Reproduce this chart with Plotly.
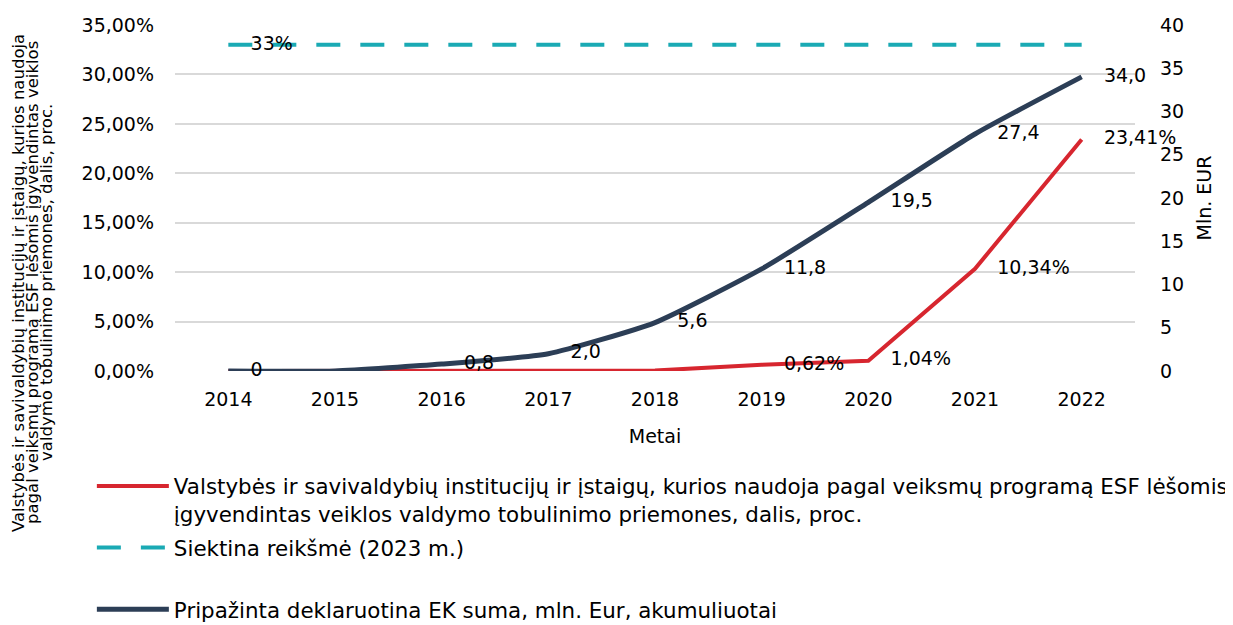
import plotly.graph_objects as go

years = ["2014", "2015", "2016", "2017", "2018", "2019", "2020", "2021", "2022"]
share_pct = [0, 0, 0, 0, 0.05, 0.62, 1.04, 10.34, 23.41]
share_labels = ["", "", "", "", "", "0,62%", "1,04%", "10,34%", "23,41%"]
target_pct = [33] * 9
target_labels = ["33%", "", "", "", "", "", "", "", ""]
eur_mln = [0, 0, 0.8, 2.0, 5.6, 11.8, 19.5, 27.4, 34.0]
eur_labels = ["0", "", "0,8", "2,0", "5,6", "11,8", "19,5", "27,4", "34,0"]

left_ticks = [0, 5, 10, 15, 20, 25, 30, 35]
left_ticktext = ["0,00%", "5,00%", "10,00%", "15,00%", "20,00%", "25,00%", "30,00%", "35,00%"]
right_ticks = [0, 5, 10, 15, 20, 25, 30, 35, 40]

left_title_lines = [
    "Valstybės ir savivaldybių institucijų ir įstaigų, kurios naudoja",
    "pagal veiksmų programą ESF lėšomis įgyvendintas veiklos",
    "valdymo tobulinimo priemones, dalis, proc.",
]

FONT = "DejaVu Sans"
RED = "#D7262F"
NAVY = "#2C3E56"
CYAN = "#1AAAB4"

fig = go.Figure()

fig.add_trace(go.Scatter(
    x=years, y=share_pct, mode="lines", yaxis="y", legendgroup="a",
    line=dict(color=RED, width=4),
    name="Valstybės ir savivaldybių institucijų ir įstaigų, kurios naudoja pagal veiksmų programą ESF lėšomis<br>įgyvendintas veiklos valdymo tobulinimo priemones, dalis, proc.",
    hoverinfo="skip"))
fig.add_trace(go.Scatter(
    x=years, y=target_pct, mode="lines", yaxis="y", legendgroup="b",
    line=dict(color=CYAN, width=4, dash="24px,20px"),
    name="Siektina reikšmė (2023 m.)<br> ",
    hoverinfo="skip"))
fig.add_trace(go.Scatter(
    x=years, y=eur_mln, mode="lines", yaxis="y2", legendgroup="c",
    line=dict(color=NAVY, width=5, shape="spline", smoothing=0.5),
    name="Pripažinta deklaruotina EK suma, mln. Eur, akumuliuotai",
    hoverinfo="skip"))

# data labels (transparent markers push the text to the right of the point)
for ys, labels, axis in [(share_pct, share_labels, "y"),
                         (target_pct, target_labels, "y"),
                         (eur_mln, eur_labels, "y2")]:
    fig.add_trace(go.Scatter(
        x=years, y=ys, yaxis=axis, mode="markers+text", text=labels,
        textposition="middle right", cliponaxis=False,
        textfont=dict(family=FONT, size=19, color="#000000"),
        marker=dict(size=34, color="rgba(0,0,0,0)"),
        showlegend=False, hoverinfo="skip"))

# page body has an 8px margin, so the figure is 8px smaller than the window
fig.update_layout(
    width=1225, height=617,
    margin=dict(l=167, r=98, t=17, b=254, autoexpand=False),
    plot_bgcolor="white", paper_bgcolor="white",
    font=dict(family=FONT, size=19, color="#000000"),
    xaxis=dict(type="category", range=[-0.5, 8.5], showgrid=False, showline=False, ticks="",
               automargin=False, ticklabelstandoff=15,
               tickfont=dict(size=19), title=dict(text="Metai", font=dict(size=19), standoff=20)),
    yaxis=dict(range=[0, 35], tickvals=left_ticks, ticktext=left_ticktext,
               showgrid=True, gridcolor="#D9D9D9", gridwidth=2, zeroline=False,
               automargin=False, ticklabelstandoff=20,
               showline=False, ticks="", tickfont=dict(size=19)),
    yaxis2=dict(range=[0, 40], tickvals=right_ticks, overlaying="y", side="right",
                showgrid=False, zeroline=False, showline=False, ticks="",
                automargin=False, ticklabelstandoff=24,
                tickfont=dict(size=19),
                title=dict(text="Mln. EUR", font=dict(size=19), standoff=14)),
    legend=dict(orientation="v", x=-0.0866, y=-0.75, xanchor="left", yanchor="bottom",
                valign="top", font=dict(size=21.4), traceorder="grouped", tracegroupgap=3,
                itemwidth=72, bgcolor="rgba(0,0,0,0)"),
    showlegend=True,
)

for i, line in enumerate(left_title_lines):
    fig.add_annotation(
        text=line, textangle=-90, xref="paper", yref="paper",
        x=(18 + 14 * i - 175) / 960, y=(371 - 283) / 346,
        xanchor="center", yanchor="middle",
        showarrow=False, font=dict(family=FONT, size=16.5, color="#000000"))

fig.write_html("out.html")
